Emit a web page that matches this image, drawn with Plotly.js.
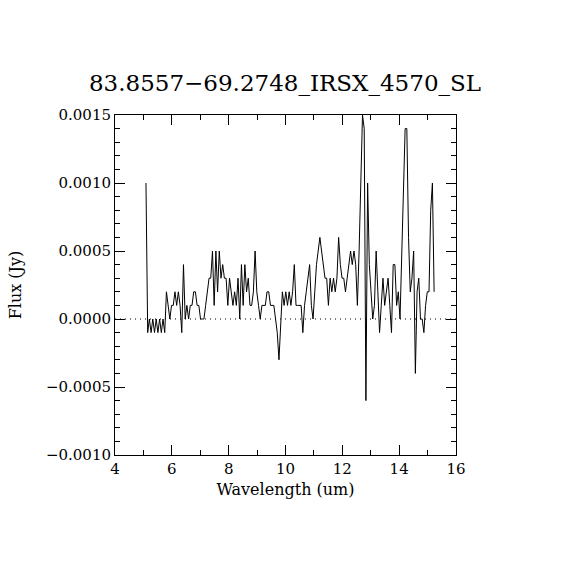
<!DOCTYPE html>
<html>
<head>
<meta charset="utf-8">
<script src="https://cdn.plot.ly/plotly-3.0.1.min.js"></script>
<style>html,body{margin:0;padding:0;background:#fff;}#plot{width:570px;height:570px;}</style>
</head>
<body>
<div id="plot"></div>
<script>
// Flux in units of 1e-4 Jy, wavelength sampling start/step in um
var wlStart = 5.09;
var wlStep = 0.06;
var fluxE4 = [
  10,-1,0,-1,0,-1,0,-1,0,-1,
  0,-1,2,1,0,1,1,2,1,2,
  1,-1,4,0,1,0,1,1,2,2,
  1,1,0,0,0,1,2,3,3,5,
  1,5,2,5,3,4,3,3,1,3,
  2,1,2,1,3,0,4,1,4,2,
  3,1,1,2,5,2,1,0,1,1,
  1,2,2,1,1,1,0,-1,-3,0,
  2,1,2,1,2,1,2,4,1,1,
  1,1,-1,1,2,3,4,1,0,2,
  4,5,6,5,4,3,3,1,3,2,
  3,2,3,6,4,3,3,2,3,4,
  5,4,5,4,1,5,10,15,14,-6,
  10,4,2,0,1,5,2,-1,1,3,
  1,2,3,1,-1,4,4,1,2,0,
  5,10,14,14,6,2,3,5,-4,2,
  3,0,0,-1,1,2,2,8,10,2
];
var wavelength = fluxE4.map(function(_, i){ return +(wlStart + i*wlStep).toFixed(3); });
var flux = fluxE4.map(function(v){ return v*1e-4; });

var xTickVals = [4,6,8,10,12,14,16];
var yTickVals = [-0.0010,-0.0005,0.0000,0.0005,0.0010,0.0015];
var yTickText = ["\u22120.0010","\u22120.0005","0.0000","0.0005","0.0010","0.0015"];

var serif = "DejaVu Serif, Liberation Serif, serif";

var trace = {
  x: wavelength, y: flux, type: 'scatter', mode: 'lines',
  line: {color: '#000', width: 1},
  hoverinfo: 'skip'
};

var layout = {
  width: 570, height: 570,
  paper_bgcolor: '#fff', plot_bgcolor: '#fff',
  margin: {l: 115, r: 114, t: 115, b: 115},
  showlegend: false,
  title: {text: '83.8557\u221269.2748_IRSX_4570_SL', font: {family: serif, size: 23, color: '#000'},
          x: 0.5, xanchor: 'center', y: 0.855, yanchor: 'middle'},
  xaxis: {
    range: [4, 16], tickvals: xTickVals, ticktext: xTickVals.map(String),
    ticks: 'inside', ticklen: 10, tickwidth: 1, tickcolor: '#000',
    minor: {dtick: 1, ticklen: 5, ticks: 'inside', tickcolor: '#000', showgrid: false},
    mirror: 'allticks', showline: true, linecolor: '#000', linewidth: 1,
    showgrid: false, zeroline: false,
    tickfont: {family: serif, size: 15, color: '#000'},
    title: {text: 'Wavelength (um)', font: {family: serif, size: 16, color: '#000'}, standoff: 6}
  },
  yaxis: {
    range: [-0.0010, 0.0015], tickvals: yTickVals, ticktext: yTickText,
    ticks: 'inside', ticklen: 10, tickwidth: 1, tickcolor: '#000',
    minor: {dtick: 0.0001, ticklen: 5, ticks: 'inside', tickcolor: '#000', showgrid: false},
    mirror: 'allticks', showline: true, linecolor: '#000', linewidth: 1,
    showgrid: false, zeroline: false,
    tickfont: {family: serif, size: 15, color: '#000'},
    title: {text: 'Flux (Jy)', font: {family: serif, size: 16, color: '#000'}, standoff: 20}
  },
  shapes: [{
    type: 'line', xref: 'paper', x0: 0, x1: 1, yref: 'y', y0: 0, y1: 0,
    line: {color: '#000', width: 1, dash: '1px,4px'}, layer: 'below'
  }]
};

Plotly.newPlot('plot', [trace], layout, {staticPlot: true, displayModeBar: false});
</script>
</body>
</html>
